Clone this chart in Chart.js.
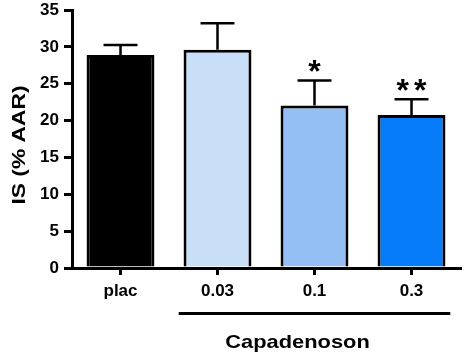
<!DOCTYPE html>
<html>
<head>
<meta charset="utf-8">
<script src="https://cdn.jsdelivr.net/npm/chart.js@4"></script>
<style>
  html, body { margin: 0; padding: 0; background: #fff; }
  #wrap { width: 465px; height: 355px; }
</style>
</head>
<body>
<div id="wrap"><canvas id="c" width="465" height="355"></canvas></div>
<script>
// ---- data ----
const categories = ['plac', '0.03', '0.1', '0.3'];
const means = [28.9, 29.6, 22.05, 20.75];
const sems = [1.35, 3.6, 3.4, 2.15];
const stars = ['', '', '*', '**'];
const barColors = ['#000000', '#c9def7', '#93bff5', '#077cf8'];
const yTicks = [0, 5, 10, 15, 20, 25, 30, 35];
const yTitle = 'IS (% AAR)';
const groupLabel = 'Capadenoson';
const groupFrom = 1, groupTo = 3;

const FONT = '"Liberation Sans", Arial, Helvetica, sans-serif';

const overlay = {
  id: 'overlay',
  afterDatasetsDraw(chart) {
    const ctx = chart.ctx;
    const y = chart.scales.y;
    const meta = chart.getDatasetMeta(0);
    ctx.save();
    ctx.strokeStyle = '#000';
    ctx.fillStyle = '#000';
    means.forEach((m, i) => {
      const bar = meta.data[i];
      const cx = bar.x;
      const half = bar.width / 4;
      const yTop = y.getPixelForValue(m);
      const yErr = y.getPixelForValue(m + sems[i]);
      ctx.lineWidth = 2.5;
      ctx.beginPath();
      ctx.moveTo(cx, yTop);
      ctx.lineTo(cx, yErr);
      ctx.moveTo(cx - half, yErr);
      ctx.lineTo(cx + half, yErr);
      ctx.stroke();
      const s = stars[i];
      if (s) {
        ctx.font = 'bold 32px ' + FONT;
        ctx.textAlign = 'center';
        ctx.textBaseline = 'alphabetic';
        const n = s.length, gap = 17.5;
        for (let k = 0; k < n; k++) {
          const sx = cx + (k - (n - 1) / 2) * gap;
          ctx.fillText('*', sx, yErr + 2);
        }
      }
    });
    ctx.restore();
  },
  afterDraw(chart) {
    const ctx = chart.ctx;
    const x = chart.scales.x, y = chart.scales.y;
    const cw = x.getPixelForValue(1) - x.getPixelForValue(0);
    ctx.save();
    ctx.fillStyle = '#000';
    ctx.strokeStyle = '#000';
    const x1 = x.getPixelForValue(groupFrom) - cw * 0.4;
    const x2 = x.getPixelForValue(groupTo) + cw * 0.4;
    ctx.lineWidth = 3;
    ctx.beginPath();
    ctx.moveTo(x1, 313.5);
    ctx.lineTo(x2, 313.5);
    ctx.stroke();
    ctx.font = 'bold 19px ' + FONT;
    ctx.textAlign = 'center';
    ctx.textBaseline = 'alphabetic';
    ctx.save();
    ctx.translate((x1 + x2) / 2 - 17, 347.5);
    ctx.scale(1.15, 1);
    ctx.fillText(groupLabel, 0, 0);
    ctx.restore();
    ctx.save();
    ctx.translate(25, (y.top + y.bottom) / 2 + 6);
    ctx.rotate(-Math.PI / 2);
    ctx.scale(1.2, 1);
    ctx.font = 'bold 19px ' + FONT;
    ctx.textAlign = 'center';
    ctx.textBaseline = 'alphabetic';
    ctx.fillText(yTitle, 0, 0);
    ctx.restore();
    ctx.restore();
  }
};

new Chart(document.getElementById('c'), {
  type: 'bar',
  data: {
    labels: categories,
    datasets: [{
      data: means,
      backgroundColor: barColors,
      borderColor: '#000',
      borderWidth: 3,
      borderSkipped: 'start',
      categoryPercentage: 1.0,
      barPercentage: 0.7
    }]
  },
  options: {
    responsive: false,
    animation: false,
    devicePixelRatio: 1,
    layout: { padding: { top: 10, right: 5, left: 0, bottom: 0 } },
    plugins: { legend: { display: false }, tooltip: { enabled: false } },
    scales: {
      x: {
        offset: true,
        afterFit(s) { s.height = 87; s.paddingLeft = 0; s.paddingRight = 0; },
        grid: { display: true, offset: false, drawOnChartArea: false, drawTicks: true, tickLength: 7, lineWidth: 3, color: '#000' },
        border: { display: true, color: '#000', width: 3 },
        ticks: { color: '#000', padding: 6, font: { family: FONT, size: 17, weight: 'bold' } }
      },
      y: {
        min: 0, max: 35,
        afterFit(s) { s.width = 72; s.paddingTop = 0; s.paddingBottom = 0; },
        afterBuildTicks(s) { s.ticks = yTicks.map(v => ({ value: v })); },
        grid: { display: true, drawOnChartArea: false, drawTicks: true, tickLength: 8, lineWidth: 3, color: '#000' },
        border: { display: true, color: '#000', width: 3 },
        ticks: { color: '#000', padding: 5, font: { family: FONT, size: 17, weight: 'bold' } }
      }
    }
  },
  plugins: [overlay]
});
</script>
</body>
</html>
